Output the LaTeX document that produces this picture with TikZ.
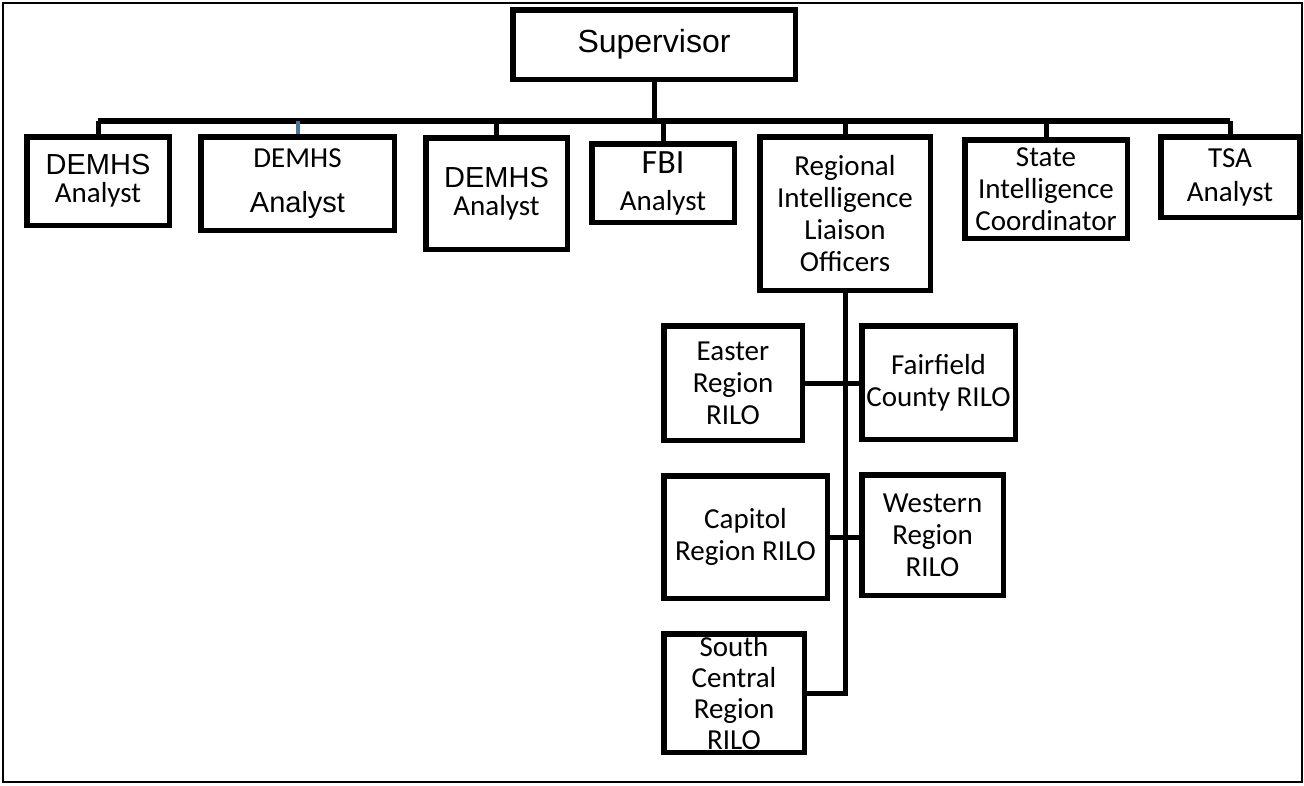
\documentclass[tikz,border=0pt]{standalone}
\usepackage{fontspec}
\usepackage{xcolor}
\usepackage{tikz}
\setmainfont{Carlito}
\newfontfamily\arialfont{Liberation Sans}
\definecolor{dropblue}{HTML}{4A74A8}
\tikzstyle{box} = [draw,rectangle,line width=5.5pt,align=center,inner sep=0pt,font=\fontsize{29}{32}\selectfont]
\tikzstyle{link} = [line width=5pt]

\begin{document}
\begin{tikzpicture}[x=1pt,y=-1pt]
            \useasboundingbox (0,0) rectangle (1304,785);
            \draw[line width=1.2pt] (3,3) rectangle (1302,782);
            \node[box,minimum width=282.5,minimum height=69.5,font=\arialfont\fontsize{32}{36}\selectfont] (sup) at (654,44.5) {Supervisor};
            \node[box,minimum width=142.5,minimum height=88.5] (demhsa) at (98,181) {{\arialfont DEMHS}\\[-4pt]Analyst};
            \node[box,minimum width=193.5,minimum height=93.5] (demhsb) at (297.5,183.5) {DEMHS\\[13pt]{\arialfont Analyst}};
            \node[box,minimum width=141.5,minimum height=111.5] (demhsc) at (496.5,193.5) {{\arialfont DEMHS}\\[-4pt]Analyst};
            \node[box,minimum width=142.5,minimum height=78.5] (fbi) at (663,183) {{\fontsize{34}{34}\selectfont FBI}\\[5pt]Analyst};
            \node[box,minimum width=170.5,minimum height=153.5] (rilo) at (845,213.5) {Regional\\Intelligence\\Liaison\\Officers};
            \node[box,minimum width=162.5,minimum height=98.5] (sic) at (1046,189) {State\\Intelligence\\Coordinator};
            \node[box,minimum width=138.5,minimum height=80.5] (tsa) at (1230,177) {TSA\\[2pt]Analyst};
            \node[box,minimum width=138.5,minimum height=114.5] (east) at (733,383) {Easter\\Region\\RILO};
            \node[box,minimum width=153.5,minimum height=113.5] (fair) at (938.5,382.5) {Fairfield\\County RILO};
            \node[box,minimum width=163.5,minimum height=122.5] (cap) at (745.5,537) {Capitol\\Region RILO};
            \node[box,minimum width=141.5,minimum height=120.5] (west) at (932.5,535) {Western\\Region\\RILO};
            \node[box,minimum width=140.5,minimum height=118.5,font=\fontsize{29}{31}\selectfont] (sc) at (734,693) {South\\Central\\Region\\RILO};
            \coordinate (bus) at (0,121);
            \draw[link] (sup.south) -- (sup.south |- bus);
            \draw[link,line width=6pt] (demhsa.north |- bus) -- (tsa.north |- bus);
            \draw[link] (demhsa.north) -- (demhsa.north |- bus);
            \draw[link,line width=4pt,dropblue] (demhsb.north) -- (demhsb.north |- bus);
            \draw[link] (demhsc.north) -- (demhsc.north |- bus);
            \draw[link] (fbi.north) -- (fbi.north |- bus);
            \draw[link] (rilo.north) -- (rilo.north |- bus);
            \draw[link] (sic.north) -- (sic.north |- bus);
            \draw[link] (tsa.north) -- (tsa.north |- bus);
            \draw[link] (rilo.south) -- (rilo.south |- sc.east) -- (sc.east);
            \draw[link] (east.east) -- (fair.west |- east.east);
            \draw[link] (cap.east) -- (west.west |- cap.east);
        \end{tikzpicture}
\end{document}
